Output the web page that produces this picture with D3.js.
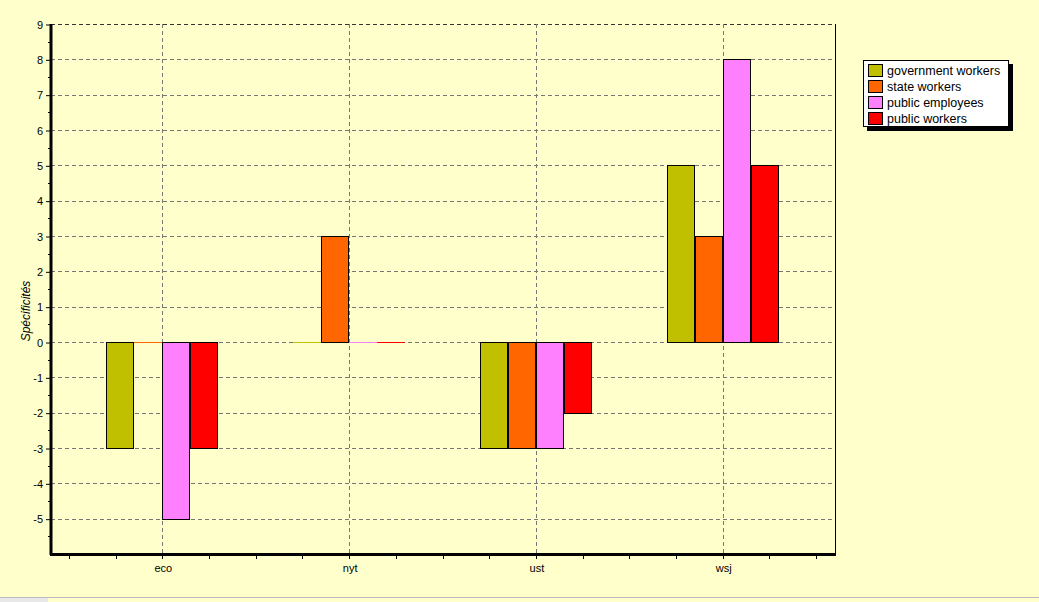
<!DOCTYPE html>
<html>
<head>
<meta charset="utf-8">
<script src="https://cdn.jsdelivr.net/npm/d3@7"></script>
<style>
  body { margin: 0; background: #FFFFCC; }
  svg { display: block; font-family: "Liberation Sans", Arial, sans-serif; }
</style>
</head>
<body>
<div class="chart"></div>
<script>
// data
var categories = ["eco", "nyt", "ust", "wsj"];
var seriesNames = ["government workers", "state workers", "public employees", "public workers"];
var seriesColors = ["#C0C000", "#FF6600", "#FF80FF", "#FF0000"];
var govWorkers = [-3, 0, -3, 5];
var stateWorkers = [0, 3, -3, 3];
var publicEmployees = [-5, 0, -3, 8];
var publicWorkers = [-3, 0, -2, 5];
var yTicks = [-5, -4, -3, -2, -1, 0, 1, 2, 3, 4, 5, 6, 7, 8, 9];

var allSeries = [govWorkers, stateWorkers, publicEmployees, publicWorkers];

var svgW = 1039, svgH = 602;
var plot = { left: 51, right: 835, top: 24, bottom: 554 };

var svg = d3.select(".chart").append("svg")
    .attr("width", svgW)
    .attr("height", svgH);

svg.append("rect").attr("width", svgW).attr("height", svgH).attr("fill", "#FFFFCC");

// scales
var x = d3.scaleBand().domain(categories).range([70, 817]);
var xInner = d3.scaleBand().domain(d3.range(seriesNames.length)).range([0, 112]);
var y = d3.scaleLinear().domain([-6, 9]).range([plot.bottom, plot.top]);

// grid
var grid = svg.append("g");
grid.selectAll(".hg").data(yTicks).enter().append("line")
    .attr("x1", plot.left).attr("x2", plot.right)
    .attr("y1", function(d) { return Math.round(y(d)) + 0.5; })
    .attr("y2", function(d) { return Math.round(y(d)) + 0.5; })
    .attr("stroke", function(d) { return d == 9 ? "#333" : "#777"; })
    .attr("stroke-dasharray", "4,3");
grid.selectAll(".vg").data(categories).enter().append("line")
    .attr("x1", function(d) { return Math.round(x(d) + x.bandwidth() / 2) - 0.5; })
    .attr("x2", function(d) { return Math.round(x(d) + x.bandwidth() / 2) - 0.5; })
    .attr("y1", plot.top).attr("y2", plot.bottom)
    .attr("stroke", "#777")
    .attr("stroke-dasharray", "4,3");

// bars
var bars = svg.append("g");
categories.forEach(function(cat, ci) {
    allSeries.forEach(function(vals, si) {
        var v = vals[ci];
        var bx = Math.round(x(cat) + x.bandwidth() / 2 - 57 + xInner(si));
        if (v === 0) {
            bars.append("line")
                .attr("x1", bx).attr("x2", bx + xInner.bandwidth())
                .attr("y1", Math.round(y(0)) + 0.5).attr("y2", Math.round(y(0)) + 0.5)
                .attr("stroke", seriesColors[si]);
        } else {
            var top = Math.round(Math.min(y(v), y(0)));
            var bot = Math.round(Math.max(y(v), y(0)));
            bars.append("rect")
                .attr("x", bx + 0.5)
                .attr("y", top + 0.5)
                .attr("width", xInner.bandwidth() - 1)
                .attr("height", bot - top)
                .attr("fill", seriesColors[si])
                .attr("stroke", "#000")
                .attr("stroke-width", 1);
        }
    });
});

// right border
svg.append("line")
    .attr("x1", plot.right + 0.5).attr("x2", plot.right + 0.5)
    .attr("y1", plot.top).attr("y2", plot.bottom)
    .attr("stroke", "#000");

// y axis
var yaxis = d3.axisLeft(y).tickValues(yTicks).tickSize(4).tickPadding(3)
    .tickFormat(function(d) { return String(d); });
var yg = svg.append("g")
    .attr("transform", "translate(" + (plot.left - 1) + ",0.5)")
    .call(yaxis);
yg.select(".domain").remove();
yg.selectAll("text").attr("font-size", 11).attr("fill", "#000").attr("font-family", "Liberation Sans, Arial, sans-serif");
var minorY = d3.range(-5.5, 9, 1);
svg.append("g").selectAll("line").data(minorY).enter().append("line")
    .attr("x1", plot.left - 3).attr("x2", plot.left)
    .attr("y1", function(d) { return Math.round(y(d)) + 0.5; })
    .attr("y2", function(d) { return Math.round(y(d)) + 0.5; })
    .attr("stroke", "#000");
svg.append("line")
    .attr("x1", plot.left).attr("x2", plot.left)
    .attr("y1", plot.top).attr("y2", plot.bottom + 1)
    .attr("stroke", "#000").attr("stroke-width", 3);

// x axis
var xaxis = d3.axisBottom(x).tickSize(0).tickPadding(10);
var xg = svg.append("g")
    .attr("transform", "translate(0," + plot.bottom + ")")
    .call(xaxis);
xg.select(".domain").remove();
xg.selectAll("text").attr("font-size", 11).attr("fill", "#000").attr("font-family", "Liberation Sans, Arial, sans-serif");
var minorX = d3.range(0, 17).map(function(k) { return 70 + k * x.bandwidth() / 4; });
svg.append("g").selectAll("line").data(minorX).enter().append("line")
    .attr("x1", function(d) { return Math.round(d) - 0.5; })
    .attr("x2", function(d) { return Math.round(d) - 0.5; })
    .attr("y1", plot.bottom).attr("y2", plot.bottom + 5)
    .attr("stroke", "#000");
svg.append("line")
    .attr("x1", plot.left - 1).attr("x2", plot.right + 1)
    .attr("y1", plot.bottom + 0.5).attr("y2", plot.bottom + 0.5)
    .attr("stroke", "#000").attr("stroke-width", 3);

// y label
svg.append("text")
    .attr("transform", "translate(30," + ((plot.top + plot.bottom) / 2 + 22) + ") rotate(-90)")
    .attr("text-anchor", "middle")
    .attr("font-size", 12)
    .attr("font-style", "italic")
    .text("Spécificités");

// legend
var lg = svg.append("g").attr("transform", "translate(863,60)");
lg.append("rect").attr("x", 4).attr("y", 4).attr("width", 146).attr("height", 67).attr("fill", "#000");
lg.append("rect").attr("x", 0.5).attr("y", 0.5).attr("width", 145).attr("height", 66)
    .attr("fill", "#fff").attr("stroke", "#000");
seriesNames.forEach(function(name, i) {
    lg.append("rect")
        .attr("x", 5.5).attr("y", 4.5 + i * 16)
        .attr("width", 14).attr("height", 12)
        .attr("fill", seriesColors[i]).attr("stroke", "#000");
    lg.append("text")
        .attr("x", 24).attr("y", 15 + i * 16)
        .attr("font-size", 12.5)
        .text(name);
});

// status bar remnants
svg.append("line").attr("x1", 0).attr("x2", svgW).attr("y1", 597.5).attr("y2", 597.5).attr("stroke", "#bbb");
svg.append("rect").attr("x", 0).attr("y", 598).attr("width", 48).attr("height", 4).attr("fill", "#e8e8e8");
</script>
</body>
</html>
